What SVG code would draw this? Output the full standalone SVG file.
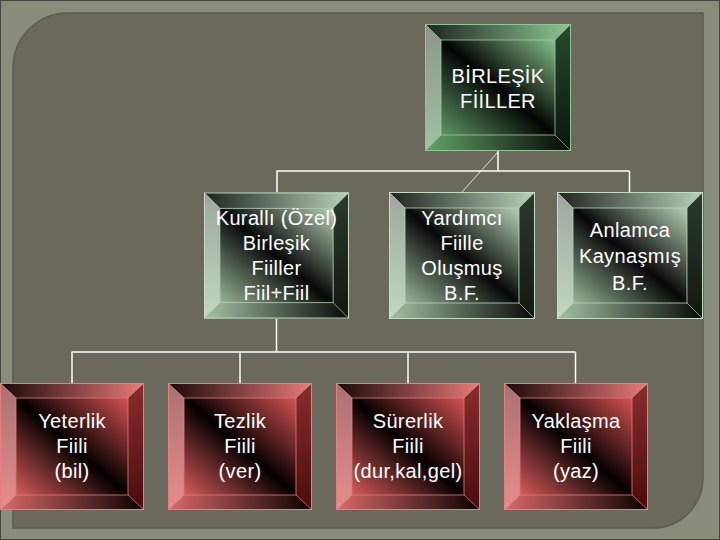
<svg xmlns="http://www.w3.org/2000/svg" width="720" height="540" viewBox="0 0 720 540">
  <defs>
    <!-- dark green (top node) -->
    <linearGradient id="gFaceA" x1="0" y1="1" x2="1" y2="0">
      <stop offset="0" stop-color="#5e9664"/><stop offset="0.5" stop-color="#030503"/><stop offset="1" stop-color="#86c08b"/>
    </linearGradient>
    <linearGradient id="gTopA" x1="0" y1="0" x2="1" y2="0">
      <stop offset="0" stop-color="#1c241e"/><stop offset="1" stop-color="#90c794"/>
    </linearGradient>
    <linearGradient id="gLeftA" x1="0" y1="0" x2="0" y2="1">
      <stop offset="0" stop-color="#8a968a"/><stop offset="1" stop-color="#a0c2a2"/>
    </linearGradient>
    <linearGradient id="gRightA" x1="0" y1="0" x2="0" y2="1">
      <stop offset="0" stop-color="#2a4a2e"/><stop offset="1" stop-color="#0a140c"/>
    </linearGradient>
    <linearGradient id="gBotA" x1="0" y1="0" x2="1" y2="0">
      <stop offset="0" stop-color="#62a468"/><stop offset="1" stop-color="#040604"/>
    </linearGradient>
    <!-- pale green (second row) -->
    <linearGradient id="gFaceB" x1="0" y1="1" x2="1" y2="0">
      <stop offset="0" stop-color="#98b498"/><stop offset="0.5" stop-color="#070807"/><stop offset="1" stop-color="#b6d2b6"/>
    </linearGradient>
    <linearGradient id="gTopB" x1="0" y1="0" x2="1" y2="0">
      <stop offset="0" stop-color="#1e2420"/><stop offset="1" stop-color="#b8d2b8"/>
    </linearGradient>
    <linearGradient id="gLeftB" x1="0" y1="0" x2="0" y2="1">
      <stop offset="0" stop-color="#9ea69e"/><stop offset="1" stop-color="#c0d8c0"/>
    </linearGradient>
    <linearGradient id="gRightB" x1="0" y1="0" x2="0" y2="1">
      <stop offset="0" stop-color="#2c3a2e"/><stop offset="1" stop-color="#121812"/>
    </linearGradient>
    <linearGradient id="gBotB" x1="0" y1="0" x2="1" y2="0">
      <stop offset="0" stop-color="#a4c2a4"/><stop offset="1" stop-color="#080a08"/>
    </linearGradient>
    <!-- red (bottom row) -->
    <linearGradient id="gFaceC" x1="0" y1="1" x2="1" y2="0">
      <stop offset="0" stop-color="#d65a5a"/><stop offset="0.5" stop-color="#050000"/><stop offset="1" stop-color="#d45252"/>
    </linearGradient>
    <linearGradient id="gTopC" x1="0" y1="0" x2="1" y2="0">
      <stop offset="0" stop-color="#1a0808"/><stop offset="1" stop-color="#ea7a7a"/>
    </linearGradient>
    <linearGradient id="gLeftC" x1="0" y1="0" x2="0" y2="1">
      <stop offset="0" stop-color="#a87272"/><stop offset="1" stop-color="#e88c8c"/>
    </linearGradient>
    <linearGradient id="gRightC" x1="0" y1="0" x2="0" y2="1">
      <stop offset="0" stop-color="#8a2c2c"/><stop offset="1" stop-color="#4a0c0c"/>
    </linearGradient>
    <linearGradient id="gBotC" x1="0" y1="0" x2="1" y2="0">
      <stop offset="0" stop-color="#dc6a6a"/><stop offset="1" stop-color="#0a0000"/>
    </linearGradient>

    <symbol id="boxA" viewBox="0 0 146 127">
      <polygon points="0,0 146,0 130,16 16,16" fill="url(#gTopA)"/>
      <polygon points="0,0 16,16 16,111 0,127" fill="url(#gLeftA)"/>
      <polygon points="146,0 146,127 130,111 130,16" fill="url(#gRightA)"/>
      <polygon points="0,127 16,111 130,111 146,127" fill="url(#gBotA)"/>
      <rect x="16" y="16" width="114" height="95" fill="url(#gFaceA)" stroke="#9cc8a0" stroke-width="0.8"/>
      <path class="seam" d="M0,0L16,16M146,0L130,16M0,127L16,111M146,127L130,111" stroke="#b0dcb4"/>
      <rect x="0.5" y="0.5" width="145" height="126" fill="none" stroke="#8fc493"/>
    </symbol>
    <symbol id="boxB" viewBox="0 0 146 127">
      <polygon points="0,0 146,0 130,16 16,16" fill="url(#gTopB)"/>
      <polygon points="0,0 16,16 16,111 0,127" fill="url(#gLeftB)"/>
      <polygon points="146,0 146,127 130,111 130,16" fill="url(#gRightB)"/>
      <polygon points="0,127 16,111 130,111 146,127" fill="url(#gBotB)"/>
      <rect x="16" y="16" width="114" height="95" fill="url(#gFaceB)" stroke="#b8d4b8" stroke-width="0.8"/>
      <path class="seam" d="M0,0L16,16M146,0L130,16M0,127L16,111M146,127L130,111" stroke="#d0e6d0"/>
      <rect x="0.5" y="0.5" width="145" height="126" fill="none" stroke="#c4dcc4"/>
    </symbol>
    <symbol id="boxC" viewBox="0 0 144 127">
      <polygon points="0,0 144,0 128,15 16,15" fill="url(#gTopC)"/>
      <polygon points="0,0 16,15 16,112 0,127" fill="url(#gLeftC)"/>
      <polygon points="144,0 144,127 128,112 128,15" fill="url(#gRightC)"/>
      <polygon points="0,127 16,112 128,112 144,127" fill="url(#gBotC)"/>
      <rect x="16" y="15" width="112" height="97" fill="url(#gFaceC)" stroke="#e07a7a" stroke-width="0.8"/>
      <path class="seam" d="M0,0L16,15M144,0L128,15M0,127L16,112M144,127L128,112" stroke="#f0a0a0"/>
      <rect x="0.5" y="0.5" width="143" height="126" fill="none" stroke="#e87e7e"/>
    </symbol>
  </defs>
  <style>
    .seam { stroke-width: 0.8; opacity: 0.7; fill: none; }
    .lbl { font-family: "Liberation Sans", Arial, sans-serif; font-size: 20px; letter-spacing: 0.35px; fill: #ffffff; text-anchor: middle; }
    .conn line { stroke: #ffffff; stroke-width: 1.5; }
  </style>

  <!-- background -->
  <rect x="0" y="0" width="720" height="540" fill="#8a8c7b"/>
  <rect x="0.5" y="0.5" width="719" height="539" fill="none" stroke="#45463c"/>
  <path d="M13,68 A55,55 0 0 1 68,13 H703 V478 A50,50 0 0 1 653,528 H13 Z" fill="#6a695b" stroke="#5c5c50" stroke-width="1.5"/>

  <!-- connectors -->
  <g id="connectors" class="conn">
    <line x1="498" y1="151" x2="498" y2="171"/>
    <line x1="276.5" y1="171" x2="629.5" y2="171"/>
    <line x1="277" y1="171" x2="277" y2="192"/>
    <line x1="629.5" y1="171" x2="629.5" y2="192"/>
    <line x1="498" y1="152" x2="462" y2="192" stroke-opacity="0.75" style="stroke-width:1"/>
    <line x1="276.5" y1="319" x2="276.5" y2="352"/>
    <line x1="71.5" y1="352" x2="575.5" y2="352"/>
    <line x1="72" y1="352" x2="72" y2="383"/>
    <line x1="240" y1="352" x2="240" y2="383"/>
    <line x1="408" y1="352" x2="408" y2="383"/>
    <line x1="575.5" y1="352" x2="575.5" y2="383"/>
  </g>

  <g id="node-birlesik">
    <use href="#boxA" x="425" y="24" width="146" height="127"/>
    <text class="lbl" x="498" y="83">BİRLEŞİK</text>
    <text class="lbl" x="498" y="108">FİİLLER</text>
  </g>

  <g id="node-kuralli">
    <use href="#boxB" x="204" y="192" width="145" height="127"/>
    <text class="lbl" x="276.5" y="225">Kurallı (Özel)</text>
    <text class="lbl" x="276.5" y="250">Birleşik</text>
    <text class="lbl" x="276.5" y="275">Fiiller</text>
    <text class="lbl" x="276.5" y="300">Fiil+Fiil</text>
  </g>

  <g id="node-yardimci">
    <use href="#boxB" x="389" y="192" width="146" height="127"/>
    <text class="lbl" x="462" y="225">Yardımcı</text>
    <text class="lbl" x="462" y="250">Fiille</text>
    <text class="lbl" x="462" y="275">Oluşmuş</text>
    <text class="lbl" x="462" y="300">B.F.</text>
  </g>

  <g id="node-anlamca">
    <use href="#boxB" x="557" y="192" width="146" height="127"/>
    <text class="lbl" x="630" y="237">Anlamca</text>
    <text class="lbl" x="630" y="263">Kaynaşmış</text>
    <text class="lbl" x="630" y="290">B.F.</text>
  </g>

  <g id="node-yeterlik">
    <use href="#boxC" x="0" y="383" width="144" height="127"/>
    <text class="lbl" x="72" y="428">Yeterlik</text>
    <text class="lbl" x="72" y="453">Fiili</text>
    <text class="lbl" x="72" y="478">(bil)</text>
  </g>

  <g id="node-tezlik">
    <use href="#boxC" x="168" y="383" width="144" height="127"/>
    <text class="lbl" x="240" y="428">Tezlik</text>
    <text class="lbl" x="240" y="453">Fiili</text>
    <text class="lbl" x="240" y="478">(ver)</text>
  </g>

  <g id="node-surerlik">
    <use href="#boxC" x="336" y="383" width="144" height="127"/>
    <text class="lbl" x="408" y="428">Sürerlik</text>
    <text class="lbl" x="408" y="453">Fiili</text>
    <text class="lbl" x="408" y="478">(dur,kal,gel)</text>
  </g>

  <g id="node-yaklasma">
    <use href="#boxC" x="504" y="383" width="144" height="127"/>
    <text class="lbl" x="576" y="428">Yaklaşma</text>
    <text class="lbl" x="576" y="453">Fiili</text>
    <text class="lbl" x="576" y="478">(yaz)</text>
  </g>
</svg>
